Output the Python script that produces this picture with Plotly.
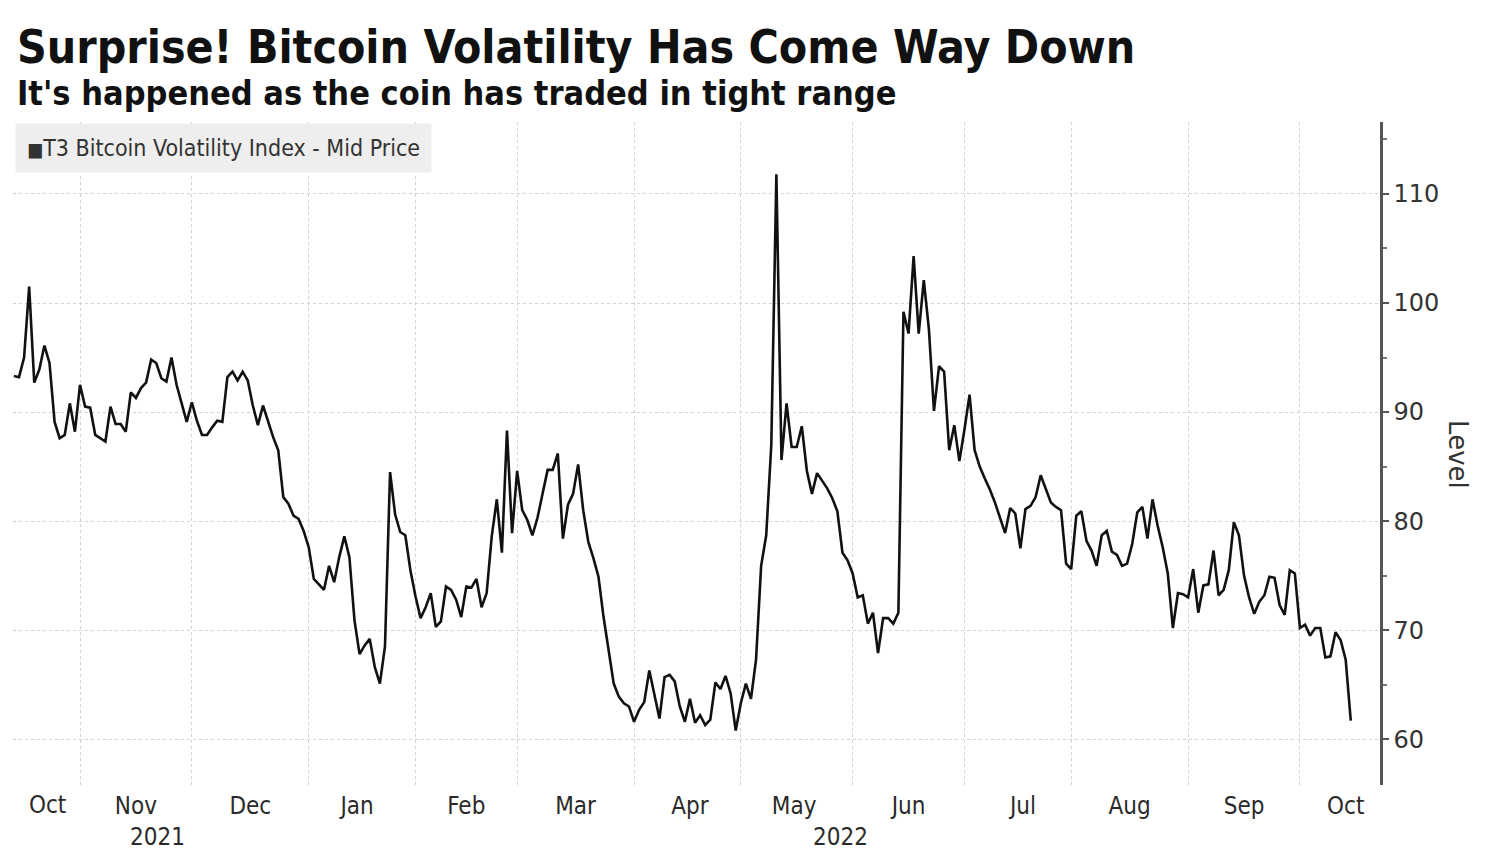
import pandas as pd
import plotly.graph_objects as go

title = "Surprise! Bitcoin Volatility Has Come Way Down"
subtitle = "It's happened as the coin has traded in tight range"
series_name = "T3 Bitcoin Volatility Index - Mid Price"
y_title = "Level"
year_labels = ["2021", "2022"]
first_month_label = "Oct"
start_date = "2021-10-13"
end_date = "2022-10-17"

# Daily (weekday) readings, month by month
oct21 = [93.3, 93.2, 95.0, 101.5, 92.7, 93.9, 96.1, 94.5, 89.1, 87.6, 87.9, 90.8, 88.2]
nov21 = [92.5, 90.5, 90.4, 87.9, 87.6, 87.3, 90.5, 88.9, 88.9, 88.2, 91.8, 91.3, 92.2, 92.7,
         94.8, 94.5, 93.1, 92.8, 95.0, 92.5, 90.8, 89.1]
dec21 = [90.9, 89.2, 87.9, 87.9, 88.6, 89.2, 89.1, 93.2, 93.7, 92.9, 93.7, 92.9, 90.6, 88.8,
         90.6, 89.1, 87.7, 86.5, 82.2, 81.6, 80.5, 80.2, 79.1]
jan22 = [77.6, 74.7, 74.2, 73.7, 75.9, 74.4, 76.7, 78.6, 76.7, 70.9, 67.8, 68.6, 69.2, 66.6,
         65.1, 68.5, 84.5, 80.6, 79.0, 78.7, 75.5]
feb22 = [73.1, 71.1, 72.1, 73.4, 70.3, 70.8, 74.0, 73.7, 72.8, 71.2, 74.0, 73.9, 74.7, 72.1,
         73.4, 78.6, 82.0, 77.1, 88.3, 78.9]
mar22 = [84.6, 81.0, 80.1, 78.7, 80.3, 82.5, 84.7, 84.7, 86.2, 78.4, 81.5, 82.5, 85.2, 81.0,
         78.1, 76.6, 74.9, 71.2, 68.2, 65.1, 63.9, 63.3, 63.0]
apr22 = [61.6, 62.7, 63.4, 66.3, 64.0, 61.9, 65.7, 65.9, 65.3, 63.0, 61.6, 63.7, 61.5, 62.2,
         61.3, 61.8, 65.2, 64.6, 65.8, 64.2, 60.8]
may22 = [63.3, 65.1, 63.7, 67.3, 75.9, 78.7, 87.0, 111.8, 85.6, 90.8, 86.8, 86.8, 88.7, 84.6,
         82.5, 84.4, 83.7, 83.0, 82.1, 80.9, 77.1, 76.4]
jun22 = [75.2, 73.0, 73.2, 70.6, 71.6, 67.9, 71.1, 71.1, 70.6, 71.6, 99.2, 97.2, 104.3, 97.2,
         102.1, 97.6, 90.1, 94.2, 93.7, 86.5, 88.8, 85.5, 88.4]
jul22 = [91.6, 86.5, 85.0, 83.9, 82.9, 81.7, 80.4, 78.9, 81.2, 80.7, 77.5, 81.1, 81.4,
         82.2, 84.2, 83.0, 81.7, 81.3, 81.0, 76.1]
aug22 = [75.6, 80.5, 80.9, 78.2, 77.3, 75.9, 78.7, 79.1, 77.2, 76.9, 75.9, 76.1, 77.9, 80.8,
         81.3, 78.4, 82.0, 79.6, 77.6, 75.2, 70.2, 73.4, 73.3]
sep22 = [73.0, 75.6, 71.6, 74.1, 74.2, 77.3, 73.2, 73.7, 75.5, 79.9, 78.7, 75.0, 73.0, 71.5,
         72.6, 73.2, 74.9, 74.8, 72.3, 71.4, 75.5, 75.2]
oct22 = [70.2, 70.5, 69.5, 70.2, 70.2, 67.5, 67.6, 69.8, 69.1, 67.3, 61.7]

values = (oct21 + nov21 + dec21 + jan22 + feb22 + mar22 + apr22 + may22 + jun22
          + jul22 + aug22 + sep22 + oct22)
dates = pd.bdate_range(start_date, end_date)[:len(values)]

FONT = "DejaVu Sans Condensed, DejaVu Sans, sans-serif"
GRID = "#d2d2d2"

fig = go.Figure()
fig.add_trace(go.Scatter(
    x=dates, y=values, mode="lines", name=series_name,
    line=dict(color="#111111", width=2.6), showlegend=False,
))

fig.update_layout(
    width=1500, height=850,
    margin=dict(l=13, r=120, t=122, b=65),
    paper_bgcolor="white", plot_bgcolor="white",
    font=dict(family=FONT, color="#222222"),
    xaxis=dict(
        type="date",
        rangebreaks=[dict(bounds=["sat", "mon"])],
        range=["2021-10-12 19:40", "2022-10-24 18:00"],
        tick0="2021-10-01", dtick="M1", tickformat="%b",
        ticklabelmode="period", ticklabelstandoff=4,
        showgrid=True, gridcolor=GRID, griddash="dot", gridwidth=1.2,
        showline=False, zeroline=False, ticks="",
        tickfont=dict(size=24, color="#2a2a2a", family=FONT),
    ),
    yaxis=dict(
        side="right", range=[55.8, 116.6], tick0=0, dtick=10,
        showgrid=True, gridcolor=GRID, griddash="dot", gridwidth=1.2,
        showline=True, linecolor="#555555", linewidth=2.5,
        ticks="outside", ticklen=6, tickwidth=2, tickcolor="#555555",
        ticklabelstandoff=0,
        minor=dict(dtick=5, ticks="outside", ticklen=4, tickcolor="#777777", showgrid=False),
        zeroline=False,
        tickfont=dict(size=24, color="#333333", family="DejaVu Sans, sans-serif"),
    ),
    annotations=[
        dict(text=f"<b>{title}</b>", xref="paper", yref="paper", x=0.0015, y=1.113,
             xanchor="left", yanchor="middle", showarrow=False,
             font=dict(size=46, color="#111111", family=FONT)),
        dict(text=f"<b>{subtitle}</b>", xref="paper", yref="paper", x=0.0015, y=1.0437,
             xanchor="left", yanchor="middle", showarrow=False,
             font=dict(size=34, color="#111111", family=FONT)),
        dict(text=f"<span style='font-size:19px'>■</span>{series_name}",
             xref="paper", yref="paper", x=0.0015, y=0.9985,
             xanchor="left", yanchor="top", showarrow=False, align="left",
             bgcolor="#eeeeee", borderpad=11,
             font=dict(size=23, color="#333333", family=FONT)),
        dict(text=y_title, xref="paper", yref="paper", x=1.057, y=0.4977,
             xanchor="center", yanchor="middle", textangle=90, showarrow=False,
             font=dict(size=26, color="#333333", family="DejaVu Sans, sans-serif")),
        dict(text=first_month_label, xref="paper", yref="paper", x=0.0249, y=-0.0302,
             xanchor="center", yanchor="middle", showarrow=False,
             font=dict(size=24, color="#2a2a2a", family=FONT)),
        dict(text=year_labels[0], xref="paper", yref="paper", x=0.106, y=-0.0784,
             xanchor="center", yanchor="middle", showarrow=False,
             font=dict(size=24, color="#2a2a2a", family=FONT)),
        dict(text=year_labels[1], xref="paper", yref="paper", x=0.605, y=-0.0784,
             xanchor="center", yanchor="middle", showarrow=False,
             font=dict(size=24, color="#2a2a2a", family=FONT)),
    ],
)

fig.write_html("out.html")
